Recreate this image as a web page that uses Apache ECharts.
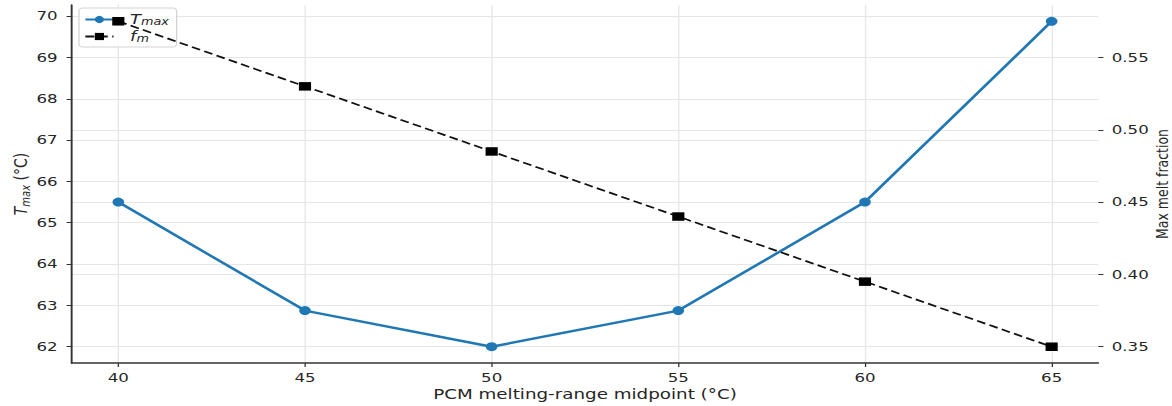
<!DOCTYPE html>
<html>
<head>
<meta charset="utf-8">
<script src="https://cdn.jsdelivr.net/npm/echarts@6/dist/echarts.min.js"></script>
<style>
  html, body { margin: 0; padding: 0; background: #ffffff; overflow: hidden; }
  #wrap { width: 1172px; height: 406px; overflow: hidden; }
  /* the figure is drawn on a narrower canvas and stretched horizontally */
  #chart { width: 916px; height: 406px; transform: scaleX(1.27948); transform-origin: 0 0; }
</style>
</head>
<body>
<div id="wrap"><div id="chart"></div></div>
<script>
// PCM melting-range midpoint (°C)
const midpoints = [40, 45, 50, 55, 60, 65];
// peak temperature T_max (°C)
const tMax = [65.5, 62.875, 62.0, 62.875, 65.5, 69.875];
// maximum melt fraction f_m
const meltFraction = [0.575, 0.53, 0.485, 0.44, 0.395, 0.35];

const xTicks = [40, 45, 50, 55, 60, 65];
const tTicks = [62, 63, 64, 65, 66, 67, 68, 69, 70];
const fTicks = [0.35, 0.40, 0.45, 0.50, 0.55];

const FONT = 'DejaVu Sans';
const TEXT = '#262626';
const GRID = '#e6e6e6';

// 5% padding around the data range on every axis
function padded(vals) {
  const lo = Math.min(...vals), hi = Math.max(...vals);
  const m = (hi - lo) * 0.05;
  return [lo - m, hi + m];
}
const xr = padded(midpoints), tr = padded(tMax), fr = padded(meltFraction);

const chart = echarts.init(document.getElementById('chart'), null, { renderer: 'svg' });

chart.setOption({
  animation: false,
  backgroundColor: '#ffffff',
  textStyle: { fontFamily: FONT },
  grid: { left: 56, right: 57.6, top: 5, bottom: 43, containLabel: false, outerBoundsMode: 'none' },
  legend: {
    left: 61.7, top: 8, orient: 'vertical', z: 1,
    itemWidth: 22, itemHeight: 9, itemGap: 1,
    padding: [3, 6, 3, 4],
    backgroundColor: 'rgba(255,255,255,0.8)',
    borderColor: '#d3d3d3', borderWidth: 1, borderRadius: 3,
    data: ['tmax', 'fm'],
    formatter: function (n) { return n === 'tmax' ? '{i|T}{s|max}' : '{i|f}{s|m}'; },
    textStyle: {
      color: TEXT, padding: [0, 0, 0, 8],
      rich: {
        i: { fontFamily: FONT, fontStyle: 'italic', fontSize: 14, color: TEXT, lineHeight: 15, verticalAlign: 'middle' },
        s: { fontFamily: FONT, fontStyle: 'italic', fontSize: 10, color: TEXT, lineHeight: 15, verticalAlign: 'bottom', padding: [6, 0, 0, 0] }
      }
    }
  },
  xAxis: {
    type: 'value', min: xr[0], max: xr[1],
    name: 'PCM melting-range midpoint (°C)',
    nameLocation: 'middle', nameGap: 24, nameMoveOverlap: false,
    nameTextStyle: { fontFamily: FONT, fontSize: 14.3, color: TEXT },
    axisLine: { show: true, onZero: false, lineStyle: { color: '#333333', width: 1.5 } },
    axisTick: { show: true, length: 4, customValues: xTicks, lineStyle: { color: '#333333', width: 1 } },
    axisLabel: { customValues: xTicks, margin: 8, fontFamily: FONT, fontSize: 13, color: TEXT },
    splitLine: { show: true, lineStyle: { color: GRID, width: 1 } }
  },
  yAxis: [
    {
      type: 'value', position: 'left', min: tr[0], max: tr[1],
      name: '{i|T}{s|max} (°C)',
      nameLocation: 'middle', nameGap: 40, nameRotate: 90, nameMoveOverlap: false,
      nameTextStyle: {
        fontFamily: FONT, fontSize: 14, color: TEXT, align: 'center', verticalAlign: 'middle',
        rich: {
          i: { fontFamily: FONT, fontStyle: 'italic', fontSize: 14, color: TEXT, lineHeight: 18, verticalAlign: 'middle' },
          s: { fontFamily: FONT, fontStyle: 'italic', fontSize: 10, color: TEXT, lineHeight: 18, verticalAlign: 'bottom', padding: [6, 0, 0, 0] }
        }
      },
      axisLine: { show: true, onZero: false, lineStyle: { color: '#333333', width: 1.5 } },
      axisTick: { show: true, length: 4, customValues: tTicks, lineStyle: { color: '#333333', width: 1 } },
      axisLabel: { customValues: tTicks, margin: 11, fontFamily: FONT, fontSize: 13, color: TEXT },
      splitLine: { show: true, lineStyle: { color: GRID, width: 1 } }
    },
    {
      type: 'value', position: 'right', min: fr[0], max: fr[1],
      name: 'Max melt fraction',
      nameLocation: 'middle', nameGap: 50, nameRotate: 90, nameMoveOverlap: false,
      nameTextStyle: { fontFamily: FONT, fontSize: 12.5, color: TEXT, align: 'center', verticalAlign: 'middle' },
      axisLine: { show: false },
      axisTick: { show: true, length: 4, customValues: fTicks, lineStyle: { color: '#333333', width: 1 } },
      axisLabel: {
        customValues: fTicks, margin: 10.5, fontFamily: FONT, fontSize: 13, color: TEXT,
        formatter: function (v) { return v.toFixed(2); }
      },
      splitLine: { show: true, lineStyle: { color: GRID, width: 1 } }
    }
  ],
  series: [
    {
      name: 'tmax', type: 'line', yAxisIndex: 0, z: 3,
      data: midpoints.map((x, i) => [x, tMax[i]]),
      symbol: 'circle', symbolSize: 9,
      lineStyle: { color: '#1f77b4', width: 2.4 },
      itemStyle: { color: '#1f77b4' }
    },
    {
      name: 'fm', type: 'line', yAxisIndex: 1, z: 4,
      data: midpoints.map((x, i) => [x, meltFraction[i]]),
      symbol: 'rect', symbolSize: [9.5, 8.5],
      lineStyle: { color: '#111111', width: 1.7, type: [7, 3.5] },
      itemStyle: { color: '#000000' }
    }
  ]
});
</script>
</body>
</html>
